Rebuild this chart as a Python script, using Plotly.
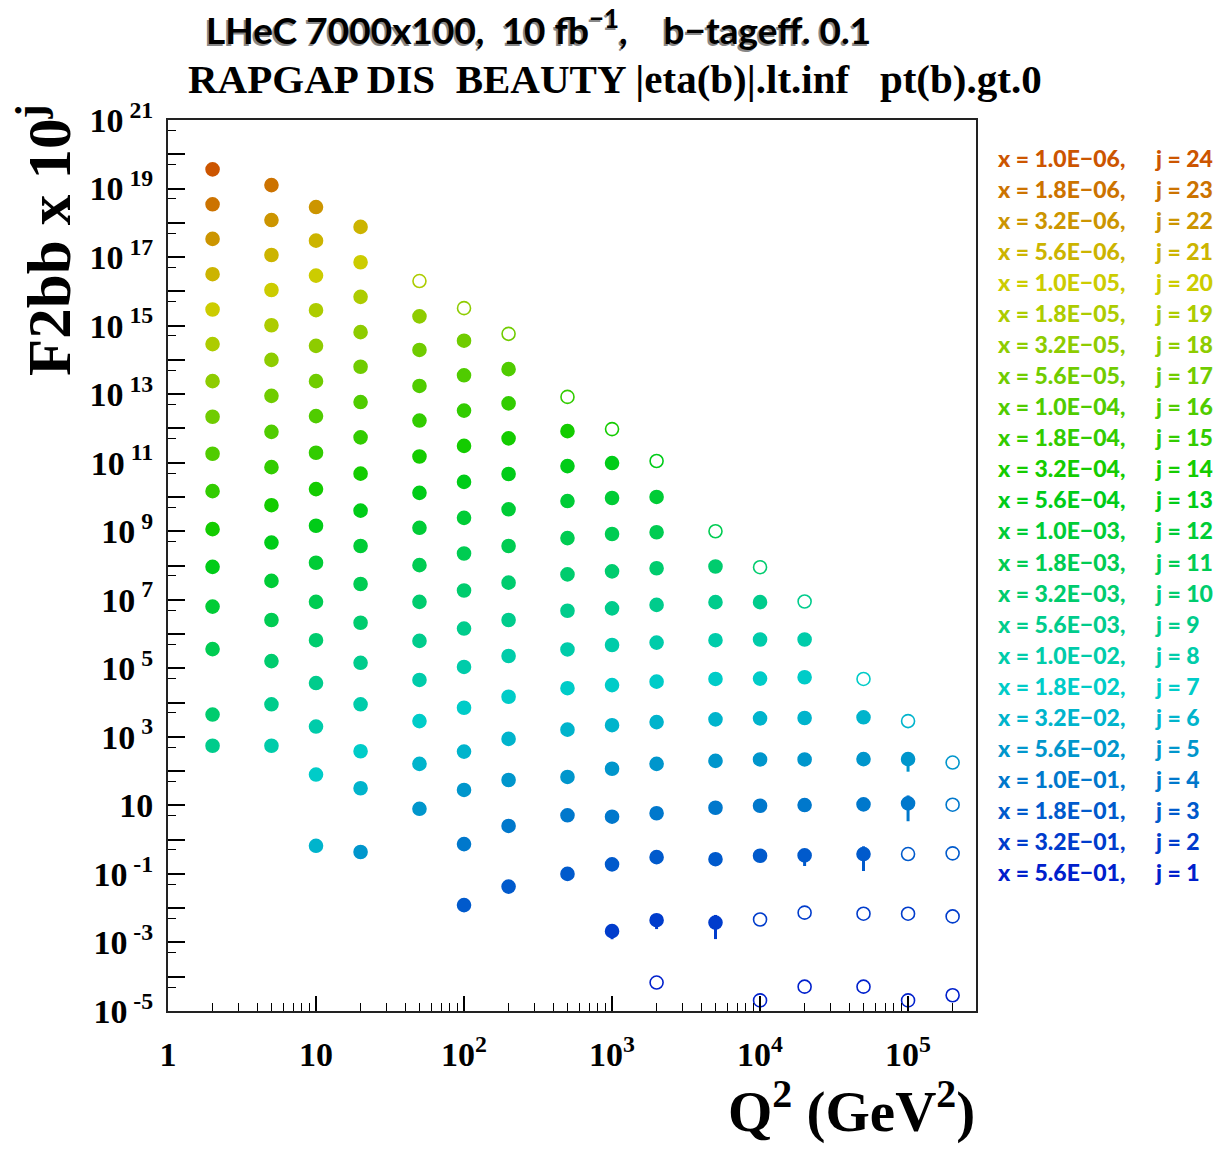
import plotly.graph_objects as go

# ---------------- data ----------------
# Q^2 bins (GeV^2)
Q2 = [2, 5, 10, 20, 50, 100, 200, 500, 1000, 2000, 5000, 1e4, 2e4, 5e4, 1e5, 2e5]
# highest j present in each Q^2 column (values listed from j_top downwards, j decreasing by 1)
j_top = [24, 23, 22, 21, 19, 18, 17, 15, 14, 13, 11, 10, 9, 7, 6, 5]
# log10( F2bb x 10^j ), per Q^2 column
logF2_scaled = [
    [19.56, 18.54, 17.53, 16.50, 15.47, 14.46, 13.38, 12.34, 11.26, 10.17, 9.06, 7.96, 6.80, 5.56, 3.65, 2.74],
    [19.10, 18.08, 17.06, 16.04, 15.01, 14.00, 12.95, 11.90, 10.87, 9.76, 8.67, 7.55, 6.41, 5.21, 3.95, 2.74],
    [18.46, 17.48, 16.46, 15.45, 14.41, 13.38, 12.36, 11.29, 10.23, 9.16, 8.08, 6.94, 5.82, 4.57, 3.30, 1.90, -0.18],
    [17.88, 16.85, 15.84, 14.81, 13.80, 12.77, 11.74, 10.68, 9.60, 8.57, 7.46, 6.33, 5.16, 3.95, 2.58, 1.50, -0.36],
    [16.30, 15.27, 14.29, 13.24, 12.23, 11.18, 10.12, 9.10, 8.01, 6.94, 5.80, 4.66, 3.46, 2.21, 0.90],
    [15.51, 14.56, 13.55, 12.52, 11.49, 10.44, 9.39, 8.35, 7.27, 6.16, 5.04, 3.85, 2.57, 1.45, -0.13, -1.91],
    [14.76, 13.73, 12.73, 11.71, 10.67, 9.64, 8.57, 7.50, 6.41, 5.36, 4.17, 2.94, 1.74, 0.40, -1.37],
    [12.92, 11.92, 10.90, 9.88, 8.80, 7.74, 6.68, 5.55, 4.42, 3.21, 1.83, 0.71, -1.00],
    [11.98, 10.99, 9.97, 8.92, 7.83, 6.75, 5.68, 4.51, 3.34, 2.07, 0.67, -0.72, -2.67],
    [11.05, 10.00, 8.97, 7.92, 6.85, 5.75, 4.61, 3.43, 2.21, 0.77, -0.51, -2.35, -4.17],
    [9.00, 7.97, 6.93, 5.82, 4.69, 3.51, 2.30, 0.93, -0.57, -2.42],
    [7.95, 6.93, 5.84, 4.70, 3.54, 2.34, 0.99, -0.47, -2.33, -4.69],
    [6.95, 5.84, 4.74, 3.55, 2.34, 1.01, -0.46, -2.13, -4.29],
    [4.69, 3.57, 2.35, 1.03, -0.42, -2.16, -4.29],
    [3.46, 2.35, 1.06, -0.42, -2.16, -4.69],
    [2.25, 1.02, -0.40, -2.24, -4.54],
]
# j values drawn as open circles in each Q^2 column
open_j = [[], [], [], [], [19], [18], [17], [15], [14], [13, 1], [11],
          [10, 2, 1], [9, 2, 1], [7, 2, 1], [6, 3, 2, 1], [5, 4, 3, 2, 1]]
# visible relative errors (Q2, j) -> relative error
rel_err = {(1000, 2): 0.42, (2000, 2): 0.45, (5000, 2): 0.67, (2e4, 3): 0.51,
           (5e4, 3): 0.68, (1e5, 5): 0.57, (1e5, 4): 0.70}

# legend: x bins for j = 24 ... 1
x_labels = ["1.0E-06", "1.8E-06", "3.2E-06", "5.6E-06", "1.0E-05", "1.8E-05",
            "3.2E-05", "5.6E-05", "1.0E-04", "1.8E-04", "3.2E-04", "5.6E-04",
            "1.0E-03", "1.8E-03", "3.2E-03", "5.6E-03", "1.0E-02", "1.8E-02",
            "3.2E-02", "5.6E-02", "1.0E-01", "1.8E-01", "3.2E-01", "5.6E-01"]
j_labels = list(range(24, 0, -1))
colors = ["#cc5500", "#cc7300", "#cc9500", "#ccb400", "#cccc00", "#adcc00",
          "#8ecc00", "#70cc00", "#50cc00", "#32cc00", "#14cc00", "#00cc18",
          "#00cc36", "#00cc52", "#00cc6e", "#00cc8c", "#00ccaa", "#00ccc8",
          "#00b4cc", "#0096cc", "#0078cc", "#005acc", "#003ccc", "#0020cc"]

y_label_exp = list(range(-5, 22, 2))      # labelled decades
y_plain_exp = list(range(-4, 21, 2))      # unlabelled decades
x_tick_exp = [0, 1, 2, 3, 4, 5]

# ---------------- figure ----------------
W, H = 1225, 1150
L_, R_, T_, B_ = 168, 976, 120, 1011
pw, ph = R_ - L_, B_ - T_


def px2paper_x(px):
    return (px - L_) / pw


def px2paper_y(py):
    return (B_ - py) / ph


fig = go.Figure()

series = {j: {"q": [], "v": [], "sym": [], "e": []} for j in j_labels}
for ci, q in enumerate(Q2):
    for k, lv in enumerate(logF2_scaled[ci]):
        j = j_top[ci] - k
        v = 10.0 ** lv
        s = series[j]
        s["q"].append(float(q))
        s["v"].append(v)
        s["sym"].append("circle-open" if j in open_j[ci] else "circle")
        s["e"].append(rel_err.get((q, j), 0.0) * v)

for idx, j in enumerate(j_labels):
    s = series[j]
    if not s["q"]:
        continue
    col = colors[idx]
    fig.add_trace(go.Scatter(
        x=s["q"], y=s["v"], mode="markers",
        marker=dict(symbol=s["sym"], size=13, color=col,
                    line=dict(color=col, width=1.6)),
        error_y=dict(type="data", symmetric=False, array=s["e"],
                     arrayminus=s["e"], thickness=3, width=0, color=col),
        showlegend=False, hoverinfo="skip"))

# empty trace so that the overlay axis carrying the 5x10^k ticks is drawn
fig.add_trace(go.Scatter(x=[], y=[], yaxis="y2", showlegend=False, hoverinfo="skip"))

yticktext = ["10" if e == 1 else "10<sup> %d</sup>" % e for e in y_label_exp]
xticktext = ["1" if e == 0 else ("10" if e == 1 else "10<sup>%d</sup>" % e) for e in x_tick_exp]

tickfont = dict(family="Liberation Serif", size=34, color="black", weight="bold")

fig.update_layout(
    xaxis=dict(
        type="log", range=[0, 5.459],
        tickvals=[10.0 ** e for e in x_tick_exp], ticktext=xticktext,
        ticks="inside", ticklen=15, tickwidth=1.5, tickcolor="black",
        minor=dict(tickvals=[m * 10.0 ** e for e in range(0, 6) for m in range(2, 10)],
                   ticks="inside", ticklen=8, tickwidth=1.2, tickcolor="black"),
        tickfont=tickfont, ticklabelstandoff=12,
        showline=True, linecolor="#222", linewidth=2, mirror=True,
        showgrid=False, zeroline=False),
    yaxis=dict(
        type="log", range=[-5, 21],
        tickvals=[10.0 ** e for e in y_label_exp], ticktext=yticktext,
        ticks="inside", ticklen=17, tickwidth=1.5, tickcolor="black",
        minor=dict(tickvals=[10.0 ** e for e in y_plain_exp],
                   ticks="inside", ticklen=17, tickwidth=1.5, tickcolor="black"),
        tickfont=tickfont, ticklabelstandoff=6,
        showline=True, linecolor="#222", linewidth=2, mirror=True,
        showgrid=False, zeroline=False),
    yaxis2=dict(
        type="log", range=[-5, 21], overlaying="y", side="left",
        tickvals=[5.0 * 10.0 ** e for e in range(-6, 21)],
        ticks="inside", ticklen=8, tickwidth=1.2, tickcolor="black",
        showticklabels=False, showline=False, showgrid=False, zeroline=False),
)

ann = []
# top titles
title1 = "LHeC 7000x100,&nbsp;&nbsp;10 fb<sup>−1</sup>,&nbsp;&nbsp;&nbsp;&nbsp;b−tageff. 0.1"
ann.append(dict(text=title1, x=px2paper_x(538) - 2 / pw, y=px2paper_y(27) - 2 / ph,
                xref="paper", yref="paper", showarrow=False,
                font=dict(family="Lato", size=37, color="#888888", weight="bold"),
                xanchor="center", yanchor="middle"))
ann.append(dict(text=title1, x=px2paper_x(538), y=px2paper_y(27),
                xref="paper", yref="paper", showarrow=False,
                font=dict(family="Lato", size=37, color="black", weight="bold"),
                xanchor="center", yanchor="middle"))
ann.append(dict(text="RAPGAP DIS&nbsp;&nbsp;BEAUTY |eta(b)|.lt.inf&nbsp;&nbsp;&nbsp;pt(b).gt.0",
                x=px2paper_x(615), y=px2paper_y(79), xref="paper", yref="paper",
                showarrow=False,
                font=dict(family="Liberation Serif", size=41, color="black", weight="bold"),
                xanchor="center", yanchor="middle"))
# axis titles
ann.append(dict(text="F2bb x 10<sup>j</sup>", textangle=-90,
                x=px2paper_x(44), y=px2paper_y(102), xref="paper", yref="paper",
                showarrow=False,
                font=dict(family="Liberation Serif", size=61, color="black", weight="bold"),
                xanchor="center", yanchor="top"))
ann.append(dict(text="Q<sup>2</sup> (GeV<sup>2</sup>)",
                x=px2paper_x(977), y=px2paper_y(1146), xref="paper", yref="paper",
                showarrow=False,
                font=dict(family="Liberation Serif", size=57, color="black", weight="bold"),
                xanchor="right", yanchor="bottom"))
# legend
for idx, (xl, j) in enumerate(zip(x_labels, j_labels)):
    py = 158 + idx * 31.04
    col = colors[idx]
    ann.append(dict(text="x = %s," % xl.replace("-", "−"),
                    x=px2paper_x(995), y=px2paper_y(py), xref="paper", yref="paper",
                    showarrow=False, xanchor="left", yanchor="middle",
                    font=dict(family="Lato", size=23, color=col, weight=900)))
    ann.append(dict(text="j = %d" % j,
                    x=px2paper_x(1153), y=px2paper_y(py), xref="paper", yref="paper",
                    showarrow=False, xanchor="left", yanchor="middle",
                    font=dict(family="Lato", size=23, color=col, weight=900)))

fig.update_layout(
    width=W, height=H, autosize=False,
    margin=dict(l=L_, r=W - R_, t=T_, b=H - B_, pad=0),
    paper_bgcolor="white", plot_bgcolor="white",
    annotations=ann, showlegend=False)

fig.write_html("out.html", config={"displayModeBar": False},
               post_script="document.body.style.margin='0';")
